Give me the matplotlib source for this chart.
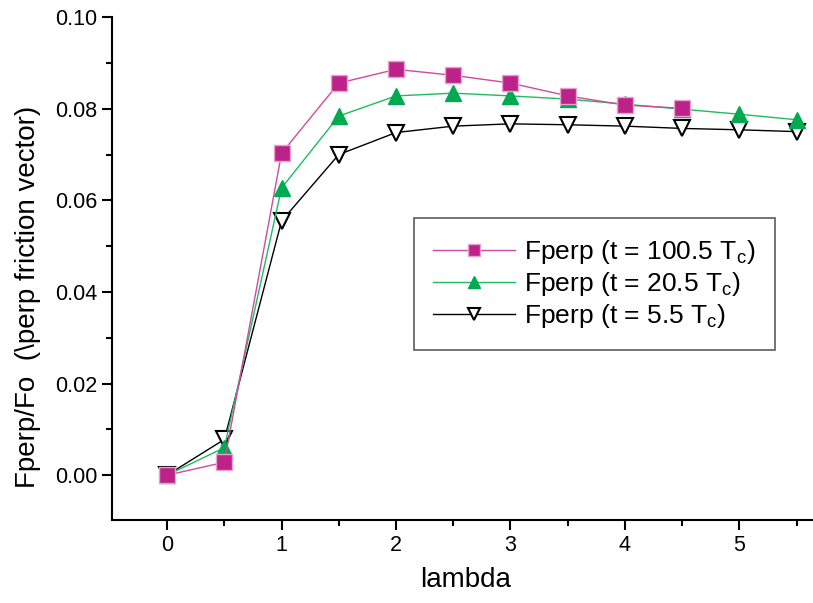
import matplotlib
matplotlib.use('Agg')
import matplotlib.pyplot as plt
from matplotlib.ticker import MultipleLocator

plt.rcParams['font.family'] = ['Liberation Sans', 'DejaVu Sans']
plt.rcParams['mathtext.fontset'] = 'custom'
plt.rcParams['mathtext.rm'] = 'Liberation Sans'
plt.rcParams['mathtext.it'] = 'Liberation Sans'

lam = [0, 0.5, 1, 1.5, 2, 2.5, 3, 3.5, 4, 4.5, 5, 5.5]
lam_100 = lam[:10]
f_100 = [0.0, 0.0028, 0.0703, 0.0856, 0.0886, 0.0873, 0.0856, 0.0828, 0.0808, 0.0801]
f_20 = [0.0, 0.0060, 0.0627, 0.0784, 0.0828, 0.0834, 0.0828, 0.0821, 0.0810, 0.0799, 0.0788, 0.0776]
f_5 = [0.0, 0.0078, 0.0555, 0.0700, 0.0748, 0.0762, 0.0767, 0.0765, 0.0762, 0.0757, 0.0754, 0.0750]

magenta = '#BC2288'
green = '#00AA50'

fig = plt.figure(figsize=(8.13, 6.03), dpi=100)
ax = fig.add_axes([0.138, 0.1376, 0.87, 0.834])

ax.plot(lam_100, f_100, color='#D04AA0', lw=1, marker='s', ms=11,
        mfc=magenta, mec='#E8A0D0', mew=1, label=r'Fperp (t = 100.5 T$_{\rm c}$)', zorder=3)
ax.plot(lam, f_20, color='#20BB60', lw=1, marker='^', ms=12,
        mfc=green, mec=green, mew=1, label=r'Fperp (t = 20.5 T$_{\rm c}$)', zorder=2)
ax.plot(lam, f_5, color='black', lw=1, marker='v', ms=11,
        mfc='white', mec='black', mew=1.5, label=r'Fperp (t = 5.5 T$_{\rm c}$)', zorder=1)

ax.set_xlim(-0.48, 5.7)
ax.set_ylim(-0.0098, 0.10)
ax.spines['top'].set_visible(False)
ax.spines['right'].set_visible(False)
ax.spines['left'].set_linewidth(1.5)
ax.spines['bottom'].set_linewidth(1.5)
ax.spines['left'].set_bounds(-0.0098, 0.10)

ax.xaxis.set_major_locator(MultipleLocator(1))
ax.xaxis.set_minor_locator(MultipleLocator(0.5))
ax.yaxis.set_major_locator(MultipleLocator(0.02))
ax.yaxis.set_minor_locator(MultipleLocator(0.01))
ax.yaxis.set_major_formatter(matplotlib.ticker.FormatStrFormatter('%.2f'))
ax.tick_params(which='major', direction='out', length=7, width=1.5, labelsize=15.5)
ax.tick_params(which='minor', direction='out', length=4, width=1.5)

ax.set_xlabel('lambda', fontsize=20, labelpad=8)
ax.set_ylabel('Fperp/Fo  (\\perp friction vector)', fontsize=20)
ax.yaxis.set_label_coords(-0.101, 0.443)

leg = ax.legend(loc='upper left', bbox_to_anchor=(0.426, 0.6), borderaxespad=0,
                fontsize=19, frameon=True, fancybox=False, edgecolor='#333333',
                handlelength=3.1, handletextpad=0.35, labelspacing=0.15,
                borderpad=0.75, markerscale=0.75)
leg.get_frame().set_linewidth(1.2)

fig.savefig('out.png', dpi=100)
